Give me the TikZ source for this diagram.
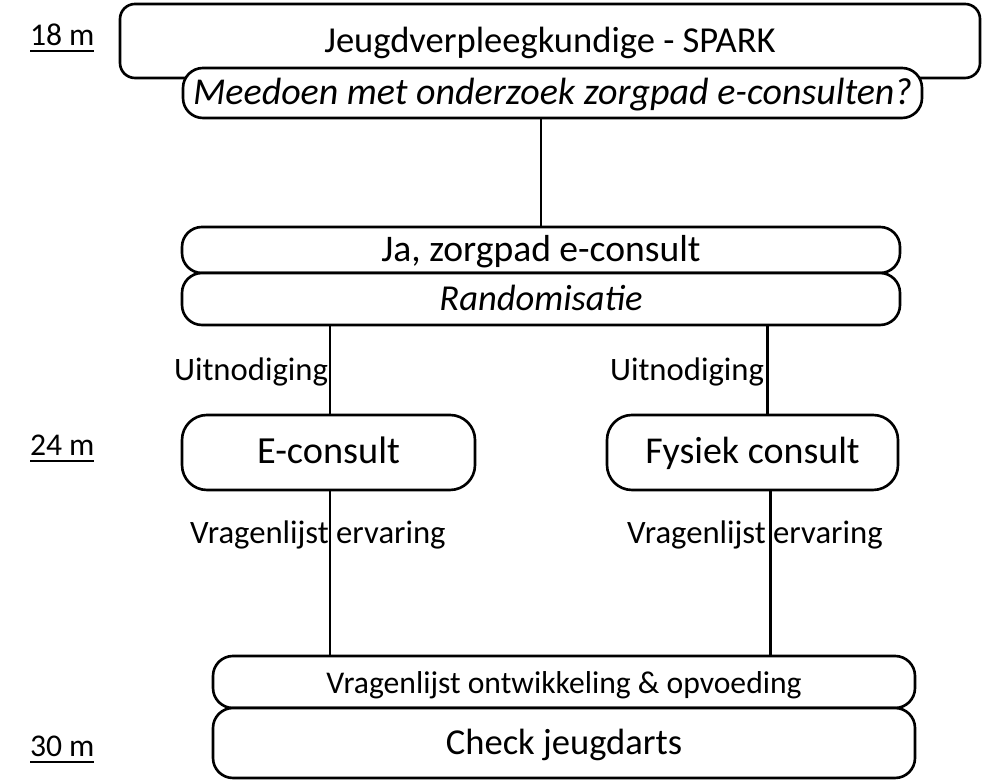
\documentclass[tikz,border=0pt]{standalone}
\usepackage{fontspec}
\setmainfont{Carlito}
\begin{document}
\begin{tikzpicture}
\tikzset{ >=latex, inner sep=0pt, outer sep=0pt,
  box/.style={draw, fill=white, line width=0.75pt, rounded corners=0.2cm, text height=1.6ex, text depth=0.25ex, font=\fontsize{10.4}{12}\selectfont},
  lbl/.style={font=\fontsize{9.3}{11}\selectfont},
  tijd/.style={anchor=base west, font=\fontsize{9}{10}\selectfont},
  lijn/.style={line width=0.6pt} }
\useasboundingbox (0,0) rectangle (9.82,7.8);
%\draw [lightgray, dashed](0,0) grid (10,8);

\node [box, minimum width=8.60cm, minimum height=0.74cm, rounded corners=0.15cm] (JV) at (5.50,7.39) {Jeugdverpleegkundige - SPARK};
\node [box, minimum width=7.39cm, minimum height=0.50cm, font=\fontsize{10.8}{12}\selectfont] (MO) at (5.525,6.87) {\itshape Meedoen met onderzoek zorgpad e-consulten?};

\node [box, minimum width=7.18cm, minimum height=0.46cm, font=\fontsize{10.7}{12}\selectfont] (JA) at (5.41,5.30) {Ja, zorgpad e-consult};
\node [box, minimum width=7.18cm, minimum height=0.52cm] (RA) at (5.41,4.81) {\itshape Randomisatie};

\node [box, minimum width=2.93cm, minimum height=0.75cm, rounded corners=0.25cm, font=\fontsize{10.9}{12}\selectfont] (EC) at (3.285,3.275) {E-consult};
\node [box, minimum width=2.91cm, minimum height=0.75cm, rounded corners=0.25cm, font=\fontsize{10.8}{12}\selectfont] (FC) at (7.525,3.275) {Fysiek consult};

\node [box, minimum width=7.02cm, minimum height=0.52cm, font=\fontsize{9}{11}\selectfont] (VO) at (5.64,0.98) {Vragenlijst ontwikkeling \& opvoeding};
\node [box, minimum width=7.02cm, minimum height=0.70cm] (CJ) at (5.64,0.37) {Check jeugdarts};

\draw [lijn] (JA.north) -- (JA.north |- MO.south);
\draw [lijn] ([xshift=0.015cm]EC.north) -- ([xshift=0.015cm]EC.north |- RA.south);
\draw [lijn] ([xshift=0.15cm]FC.north) -- ([xshift=0.15cm]FC.north |- RA.south);
\draw [lijn] ([xshift=0.015cm]EC.south) -- ([xshift=0.015cm]EC.south |- VO.north);
\draw [lijn] ([xshift=0.18cm]FC.south) -- ([xshift=0.18cm]FC.south |- VO.north);

\node [lbl, anchor=east] (U1) at (3.28,4.08) {Uitnodiging};
\node [lbl, anchor=east] (U2) at (7.64,4.08) {Uitnodiging};
\node [lbl, anchor=west] (V1) at (1.90,2.45) {Vragenlijst ervaring};
\node [lbl, anchor=west] (V2) at (6.27,2.45) {Vragenlijst ervaring};

\node [tijd] (T18) at (0.30,7.34) {\underline{18 m}};
\node [tijd] (T24) at (0.30,3.24) {\underline{24 m}};
\node [tijd] (T30) at (0.30,0.23) {\underline{30 m}};

\end{tikzpicture}
\end{document}
